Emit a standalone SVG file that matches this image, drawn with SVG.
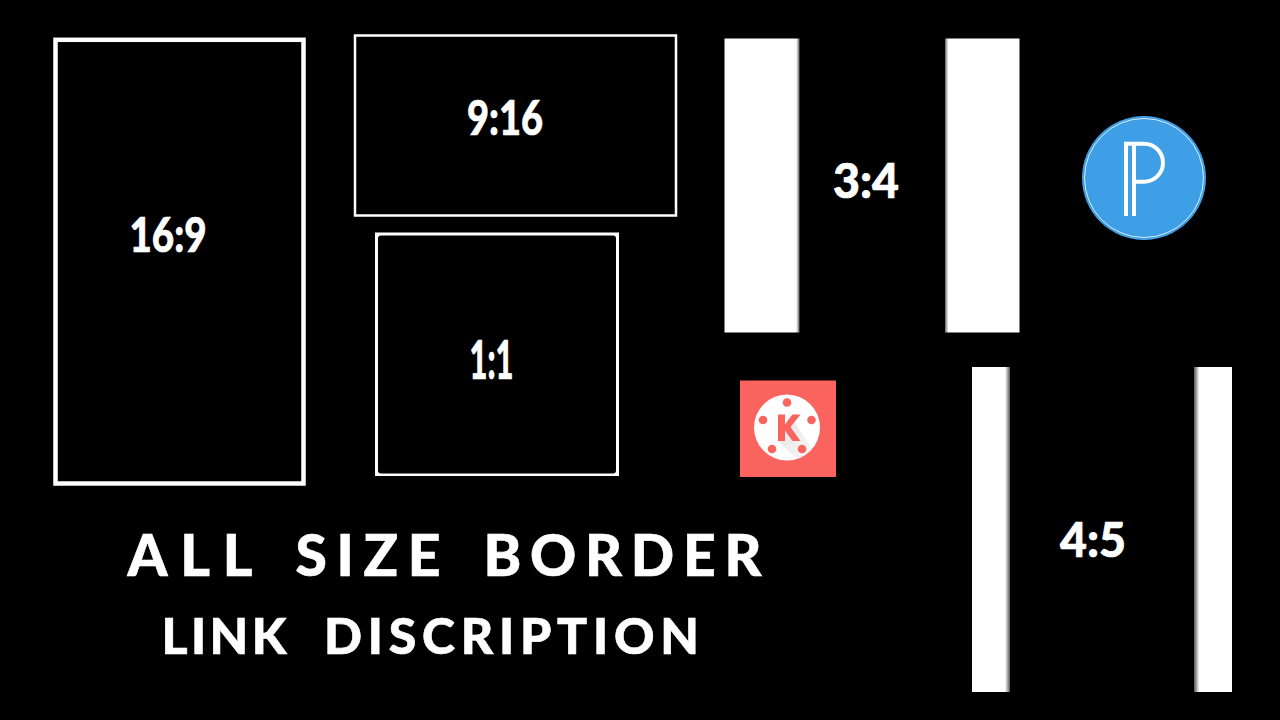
<svg xmlns="http://www.w3.org/2000/svg" width="1280" height="720" viewBox="0 0 1280 720">
<style>
.t{font-family:"Lato","Liberation Sans",sans-serif;font-weight:900;fill:#fff;stroke:#fff;stroke-width:.7;font-size:48px}
.h{font-family:"Lato","Liberation Sans",sans-serif;font-weight:900;fill:#fff;stroke:#fff;stroke-width:.6}
.a{font-size:57px}
.b{font-size:50px}
.f{fill:none;stroke:#fff}
</style>
<defs>
<linearGradient id="gr"><stop offset="0" stop-color="#fff"/><stop offset="0.955" stop-color="#fff"/><stop offset="1" stop-color="#666"/></linearGradient>
<linearGradient id="gl"><stop offset="0" stop-color="#666"/><stop offset="0.045" stop-color="#fff"/><stop offset="1" stop-color="#fff"/></linearGradient>
<linearGradient id="gr2"><stop offset="0" stop-color="#fff"/><stop offset="0.87" stop-color="#fff"/><stop offset="1" stop-color="#555"/></linearGradient>
<linearGradient id="gl2"><stop offset="0" stop-color="#555"/><stop offset="0.14" stop-color="#fff"/><stop offset="1" stop-color="#fff"/></linearGradient>
<linearGradient id="ks" x1="0" y1="0" x2="1" y2="1"><stop offset="0" stop-color="#d8d8d8"/><stop offset="1" stop-color="#f4f4f4"/></linearGradient>
</defs>
<rect width="1280" height="720" fill="#000"/>
<g id="frame-16-9"><rect class="f" x="55.500" y="39.800" width="248" height="443.700" stroke-width="4.500"/><text class="t" x="129.500" y="252" textLength="77" lengthAdjust="spacingAndGlyphs">16:9</text></g>
<g id="frame-9-16"><rect class="f" x="355" y="35.500" width="321" height="180" stroke-width="2.500"/><text class="t" x="467" y="134.500" textLength="76" lengthAdjust="spacingAndGlyphs">9:16</text></g>
<g id="frame-1-1"><path fill="#fff" fill-rule="evenodd" d="M375 232.500H619V476H375ZM381 235.500A3 3 0 0 0 378 238.500V470.500A3 3 0 0 0 381 473.500H613A3 3 0 0 0 616 470.500V238.500A3 3 0 0 0 613 235.500Z"/><text class="t" x="469.500" y="379" style="font-size:53px" textLength="44" lengthAdjust="spacingAndGlyphs">1:1</text></g>
<g id="frame-3-4"><rect x="724.500" y="38.500" width="75" height="294" fill="url(#gr)"/><rect x="945" y="38.500" width="74.500" height="294" fill="url(#gl)"/><text class="t" x="833" y="198" textLength="66" lengthAdjust="spacingAndGlyphs">3:4</text></g>
<g id="frame-4-5"><rect x="972" y="367" width="38" height="325" fill="url(#gr2)"/><rect x="1194" y="367" width="38" height="325" fill="url(#gl2)"/><text class="t" x="1060" y="557" textLength="66" lengthAdjust="spacingAndGlyphs">4:5</text></g>
<g id="pixellab-icon"><circle cx="1144" cy="178" r="62" fill="#3f9fe6"/><circle cx="1144" cy="178" r="59.500" fill="none" stroke="#d8ebfa" stroke-width="1"/>
<path d="M1126 216V143.700H1144A19 19 0 0 1 1144 181.700H1134M1134 216V143.700" fill="none" stroke="#fff" stroke-width="4"/></g>
<g id="kinemaster-icon"><rect x="740" y="380.500" width="96" height="96.500" fill="#fb635f"/><circle cx="787" cy="427.500" r="33" fill="#fff"/><path d="M790 415L812 449A33 33 0 0 1 797 459L778 441Z" fill="url(#ks)" opacity="0.7"/>
<g fill="#fb635f"><circle cx="787" cy="402.500" r="4.300"/><circle cx="763" cy="420" r="4.300"/><circle cx="811.500" cy="420" r="4.300"/><circle cx="772" cy="449" r="4.300"/><circle cx="802" cy="449" r="4.300"/></g>
<path d="M778 414.500H785V424.500L792.500 414.500H800.500L790.500 427L800.500 441H792.500L785 430.500V441H778Z" fill="#fb635f"/></g>
<g id="title">
<text class="h a" x="127.500" y="576" textLength="125" lengthAdjust="spacing">ALL</text>
<text class="h a" x="295.500" y="576" textLength="145" lengthAdjust="spacing">SIZE</text>
<text class="h a" x="483.500" y="576" textLength="278" lengthAdjust="spacing">BORDER</text>
<text class="h b" x="161.500" y="654" textLength="125" lengthAdjust="spacing">LINK</text>
<text class="h b" x="324" y="654" textLength="375" lengthAdjust="spacing">DISCRIPTION</text>
</g>
</svg>
